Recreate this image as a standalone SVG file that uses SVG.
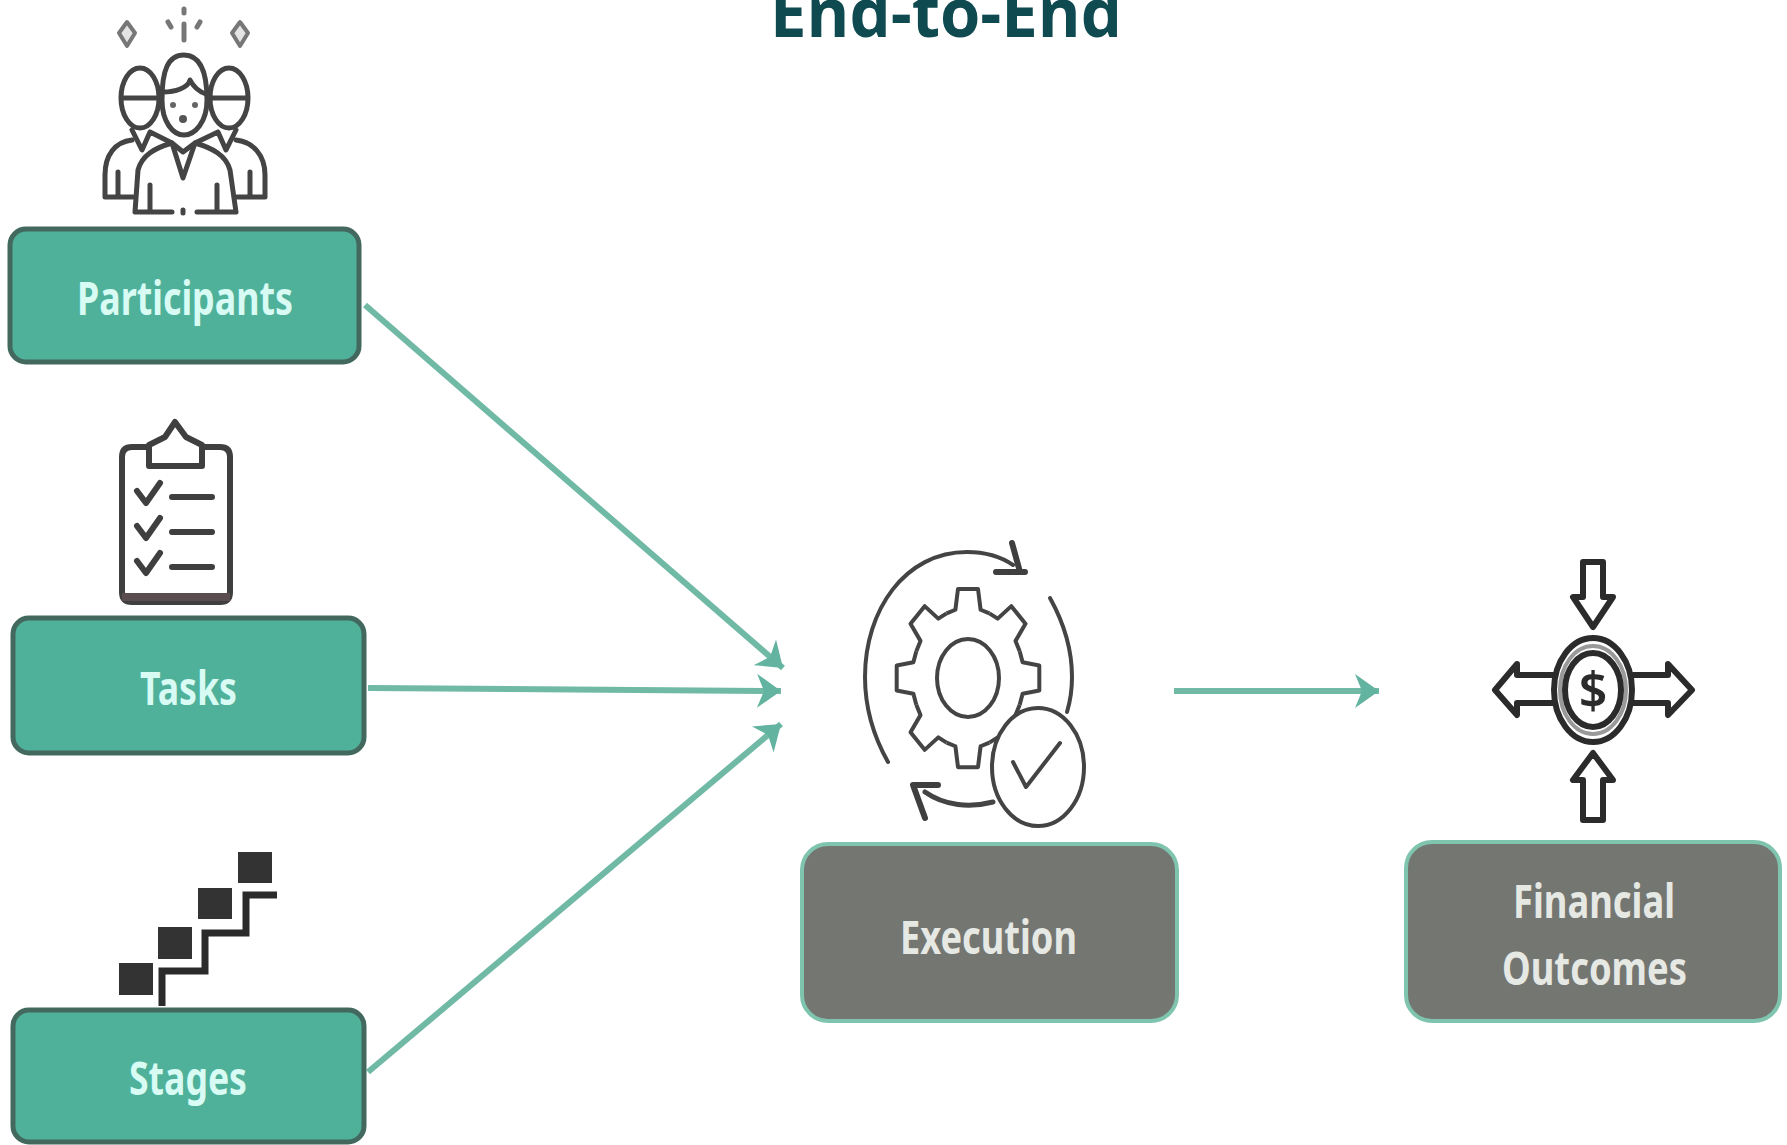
<svg xmlns="http://www.w3.org/2000/svg" xmlns:xlink="http://www.w3.org/1999/xlink" width="1787" height="1145" viewBox="0 0 1787 1145">
<defs>
<style>
.green{fill:#50b19b;stroke:#43695f;stroke-width:5}
.grey{fill:#747672;stroke:#7fc4ae;stroke-width:4}
.lg{font-family:"Noto Sans","Liberation Sans",sans-serif;font-weight:700;font-size:46px;fill:#d8fbf4}
.lw{font-family:"Noto Sans","Liberation Sans",sans-serif;font-weight:700;font-size:46px;fill:#e6e8e4}
.ic{fill:none;stroke:#3f3f3f;stroke-width:6;stroke-linecap:round;stroke-linejoin:round}
.th{fill:none;stroke:#444;stroke-width:4;stroke-linecap:round;stroke-linejoin:round}
.pp{fill:none;stroke:#444;stroke-width:5;stroke-linecap:round;stroke-linejoin:round}
.sp{fill:#e4e4e4;stroke:#777;stroke-width:4;stroke-linejoin:round}
.sq{fill:#333}
.conn{fill:none;stroke:#6fb9a5;stroke-width:6}
.title{font-family:"Open Sans","Noto Sans",sans-serif;font-weight:700;font-size:68px;fill:#0f4a50}
</style>
<marker id="arr" markerUnits="userSpaceOnUse" markerWidth="26" markerHeight="34" refX="24" refY="17" orient="auto">
<path d="M0 0 L24 17 L0 34 L7 17 Z" fill="#62b3a0"/>
</marker>
<path id="tooth" d="M-21.4 -51.7 L-12.6 -54.6 L-10 -71.3 L10 -71.3 L12.6 -54.6 L21.4 -51.7" fill="none" stroke="#444" stroke-width="4" stroke-linejoin="round" vector-effect="non-scaling-stroke"/>
</defs>
<rect width="1787" height="1145" fill="#fff"/>
<text id="title" class="title" x="770" y="37" textLength="352" lengthAdjust="spacingAndGlyphs">End-to-End</text>
<g id="connectors">
<path class="conn" d="M365 305 L783 668" marker-end="url(#arr)"/>
<path class="conn" d="M368 688 L781 691" marker-end="url(#arr)"/>
<path class="conn" d="M368 1072 L781 724" marker-end="url(#arr)"/>
<path class="conn" d="M1174 691 L1379 691" marker-end="url(#arr)"/>
</g>
<g id="participants">
<path class="sp" d="M127 22 L135 33 L127 46 L119 33 Z"/>
<path class="sp" d="M240 22 L248 33 L240 46 L232 33 Z"/>
<path class="pp" style="stroke:#777" d="M184 9 V13 M184 24 V40 M168 22 L171 27 M200 22 L197 27"/>
<ellipse class="pp" cx="140" cy="98" rx="19" ry="30"/>
<ellipse class="pp" cx="229" cy="98" rx="19" ry="30"/>
<path class="pp" d="M122 98 H160 M210 98 H246"/>
<path class="pp" d="M162 100 C162 70 168 55 184 55 C200 55 207 70 207 100 C207 122 195 135 184 135 C173 135 162 122 162 100 Z" style="fill:#fff"/>
<path class="pp" d="M163 92 C175 92 188 88 190 80 C194 88 200 92 206 94"/>
<circle cx="173" cy="105" r="3" fill="#666"/><circle cx="195" cy="105" r="3" fill="#666"/><circle cx="183" cy="119" r="4" fill="#555"/>
<path class="pp" d="M132 140 C115 142 105 155 105 175 V197 H133 M118 172 V195"/>
<path class="pp" d="M236 140 C253 142 265 155 265 175 V197 H237 M250 172 V195"/>
<path class="pp" d="M135 212 L138 170 C142 155 155 148 172 143 L183 178 L195 143 C212 148 226 155 230 170 L236 212 H197 M172 212 H135 M150 185 V210 M217 185 V210 M183 210 V213"/>
<path class="pp" d="M132 130 L142 150 L150 132 M218 132 L226 150 L236 130 M150 132 L172 143 M218 132 L195 143 M172 143 L183 152 L195 143"/>
<rect class="green" x="10" y="229" width="349" height="133" rx="16"/>
<text class="lg" x="77" y="315" textLength="216" lengthAdjust="spacingAndGlyphs">Participants</text>
</g>
<g id="tasks">
<path class="ic" d="M148 447 H132 Q122 447 122 457 V592 Q122 602 132 602 H220 Q230 602 230 592 V457 Q230 447 220 447 H203"/>
<path d="M122 597 H230" stroke="#5a4d50" stroke-width="8"/>
<path class="ic" style="fill:#fff" d="M149 466 V445 L165 437 L175 422 L186 437 L202 445 V466 Z"/>
<path class="ic" d="M137 491 L146 503 L160 483 M137 526 L146 538 L160 518 M137 561 L146 573 L160 553"/>
<path class="ic" d="M172 497 H212 M172 532 H212 M172 567 H212"/>
<rect class="green" x="13" y="618" width="351" height="135" rx="16"/>
<text class="lg" x="140" y="705" textLength="97" lengthAdjust="spacingAndGlyphs">Tasks</text>
</g>
<g id="stages">
<rect class="sq" x="119" y="963" width="34" height="32"/>
<rect class="sq" x="158" y="927" width="34" height="32"/>
<rect class="sq" x="198" y="888" width="34" height="31"/>
<rect class="sq" x="238" y="852" width="34" height="31"/>
<path d="M162 1006 V971 H205 V933 H246 V895 H277" fill="none" stroke="#2b2b2b" stroke-width="7"/>
<rect class="green" x="13" y="1010" width="351" height="132" rx="16"/>
<text class="lg" x="129" y="1095" textLength="118" lengthAdjust="spacingAndGlyphs">Stages</text>
</g>
<g id="execution">
<path class="th" d="M888 762 C870 730 865 700 865 677 C865 610 905 552 967 552 C985 552 1000 556 1013 565"/>
<path class="ic" d="M1012 543 L1020 572 M996 572 H1025"/>
<path class="th" d="M1050 598 C1065 625 1072 650 1072 677 C1072 690 1070 702 1067 712"/>
<g transform="translate(968 678) scale(1 1.25)">
<use xlink:href="#tooth" href="#tooth"/>
<use xlink:href="#tooth" href="#tooth" transform="rotate(45)"/>
<use xlink:href="#tooth" href="#tooth" transform="rotate(90)"/>
<use xlink:href="#tooth" href="#tooth" transform="rotate(135)"/>
<use xlink:href="#tooth" href="#tooth" transform="rotate(180)"/>
<use xlink:href="#tooth" href="#tooth" transform="rotate(225)"/>
<use xlink:href="#tooth" href="#tooth" transform="rotate(270)"/>
<use xlink:href="#tooth" href="#tooth" transform="rotate(315)"/>
</g>
<ellipse class="th" cx="968" cy="678" rx="31" ry="39"/>
<ellipse class="th" cx="1038" cy="767" rx="46" ry="59" style="fill:#fff"/>
<path class="th" d="M1013 762 L1026 787 L1060 743"/>
<path class="pp" d="M993 802 C970 808 945 806 925 792"/>
<path class="ic" d="M913 785 L925 818 M913 785 H938"/>
<rect class="grey" x="802" y="844" width="375" height="177" rx="26"/>
<text class="lw" x="900" y="954" textLength="177" lengthAdjust="spacingAndGlyphs">Execution</text>
</g>
<g id="financial-outcomes">
<g class="ic" style="stroke:#2b2b2b">
<ellipse cx="1593" cy="690" rx="39" ry="52"/>
<ellipse cx="1593" cy="690" rx="33" ry="44" style="stroke:#999;stroke-width:4"/>
<ellipse cx="1593" cy="690" rx="28" ry="37"/>
<path d="M1583 562 H1603 V597 H1613 L1593 627 L1573 597 H1583 Z"/>
<path d="M1583 820 H1603 V780 H1613 L1593 753 L1573 780 H1583 Z"/>
<path d="M1553 675 H1517 V664 L1495 690 L1517 715 V703 H1553"/>
<path d="M1633 675 H1668 V664 L1692 690 L1668 715 V703 H1633"/>
</g>
<text x="1593" y="708" text-anchor="middle" font-family="Noto Sans, sans-serif" font-weight="600" font-size="50" fill="#2b2b2b">$</text>
<rect class="grey" x="1406" y="842" width="374" height="179" rx="26"/>
<text class="lw" x="1513" y="918" textLength="162" lengthAdjust="spacingAndGlyphs">Financial</text>
<text class="lw" x="1502" y="985" textLength="185" lengthAdjust="spacingAndGlyphs">Outcomes</text>
</g>
</svg>
